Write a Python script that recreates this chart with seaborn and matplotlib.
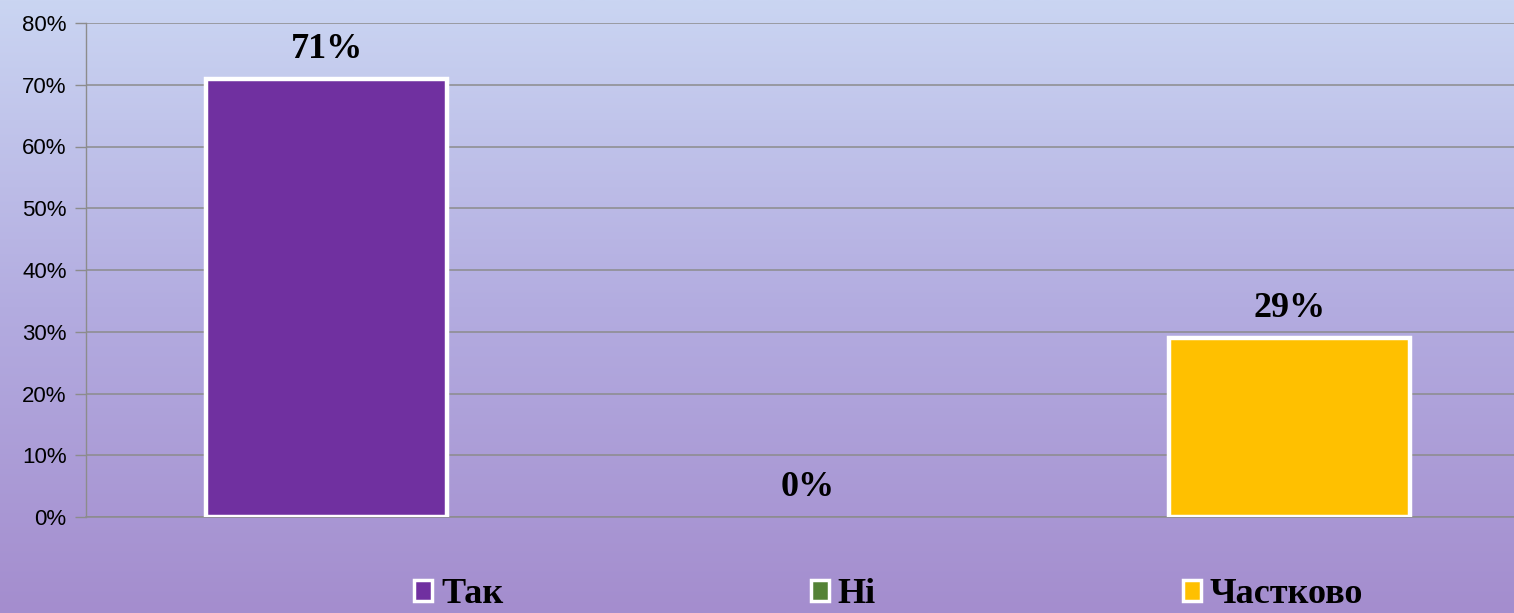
import numpy as np
import pandas as pd
import seaborn as sns
import matplotlib
matplotlib.use('Agg')
from matplotlib import pyplot as plt
from matplotlib.patches import Patch
from matplotlib.colors import LinearSegmentedColormap
from matplotlib.ticker import PercentFormatter

categories = ['Так', 'Ні', 'Частково']
shares = [0.71, 0.0, 0.29]
bar_colors = ['#7030A0', '#548235', '#FFC000']
y_ticks = [0, 0.1, 0.2, 0.3, 0.4, 0.5, 0.6, 0.7, 0.8]

df = pd.DataFrame({'answer': categories, 'share': shares})

sns.set_theme(style='white')
plt.rcParams['font.family'] = ['Liberation Sans', 'DejaVu Sans']
plt.rcParams['text.color'] = 'black'

fig = plt.figure(figsize=(15.14, 6.13), dpi=100)

# gradient background (light blue at top -> lavender at bottom)
bg = fig.add_axes([0, 0, 1, 1], zorder=-10)
grad = LinearSegmentedColormap.from_list('bg', ['#A48DCE', '#B3ACE0', '#CAD5F2'])
bg.imshow(np.linspace(0, 1, 256).reshape(-1, 1), cmap=grad, aspect='auto',
          origin='lower', extent=[0, 1, 0, 1])
bg.set_axis_off()

ax = fig.add_axes([86 / 1514, 96 / 613, 1444 / 1514, 494 / 613])
ax.set_facecolor('none')

sns.barplot(data=df, x='answer', y='share', hue='answer', palette=bar_colors,
            saturation=1, width=0.5, legend=False, ax=ax, zorder=3)
for p in ax.patches:
    if p.get_height() > 0:
        p.set_edgecolor('white')
        p.set_linewidth(3.2)
    else:
        p.set_linewidth(0)

for cont in ax.containers:
    ax.bar_label(cont, labels=[f'{round(b.get_height() * 100)}%' for b in cont],
                 padding=9, fontsize=26, fontweight='bold', family='Liberation Serif',
                 color='black')

ax.set_xlim(-0.5, 2.5)
ax.set_ylim(0, 0.8)
ax.set_yticks(y_ticks)
ax.yaxis.set_major_formatter(PercentFormatter(1.0, decimals=0))
ax.tick_params(axis='y', direction='out', length=8, width=1, color='#8C8C8C',
               labelsize=16, labelcolor='black', pad=6, left=True)
ax.tick_params(axis='x', bottom=False, labelbottom=False)
ax.set_xlabel('')
ax.set_ylabel('')
ax.yaxis.grid(True, color='#8C8C8C', linewidth=1.1, zorder=0)
ax.set_axisbelow(True)
for side in ['top', 'right']:
    ax.spines[side].set_visible(False)
ax.spines['left'].set_color('#8C8C8C')
ax.spines['bottom'].set_color('#8C8C8C')
ax.spines['left'].set_linewidth(1)
ax.spines['bottom'].set_linewidth(1.1)

handles = [Patch(facecolor=c, edgecolor='white', linewidth=2.5) for c in bar_colors]
leg = fig.legend(handles, categories, loc='center', bbox_to_anchor=(0.587, 0.03),
                 ncol=3, frameon=False, handlelength=0.5, handleheight=0.5,
                 handletextpad=0.25, columnspacing=8.5,
                 prop={'family': 'Liberation Serif', 'weight': 'bold', 'size': 26})
for t in leg.get_texts():
    t.set_color('black')

fig.savefig('out.png', dpi=100)
